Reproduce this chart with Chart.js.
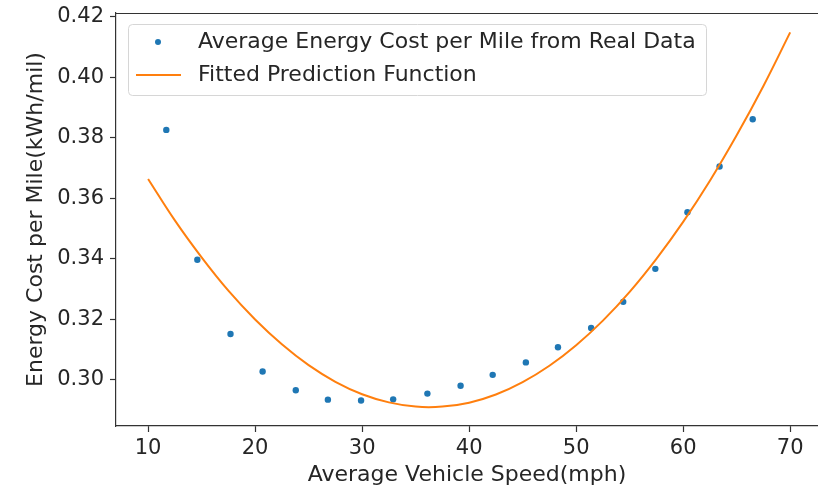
<!DOCTYPE html>
<html>
<head>
<meta charset="utf-8">
<script src="https://cdn.jsdelivr.net/npm/chart.js@4.4.1/dist/chart.umd.min.js"></script>
<style>
  body { margin: 0; background: #fff; }
  #wrap { width: 818px; height: 488px; }
</style>
</head>
<body>
<div id="wrap"><canvas id="myChart" width="818" height="488"></canvas></div>
<script>
// measured points (speed mph, energy kWh/mile)
const speeds = [11.7, 14.6, 17.7, 20.7, 23.8, 26.8, 29.9, 32.9, 36.1, 39.2, 42.2, 45.3, 48.3, 51.4, 54.4, 57.4, 60.4, 63.4, 66.5];
const costs = [0.3826, 0.3397, 0.3152, 0.3028, 0.2966, 0.2935, 0.2932, 0.2936, 0.2955, 0.2981, 0.3017, 0.3058, 0.3108, 0.3172, 0.3258, 0.3367, 0.3554, 0.3705, 0.3861];

// fitted curve
const fitSpeeds = [10, 12.5, 15, 17.5, 20, 22.5, 25, 27.5, 30, 32.5, 35, 37.5, 40, 42.5, 45, 47.5, 50, 52.5, 55, 57.5, 60, 62.5, 65, 67.5, 70];
const fitCosts = [0.3664, 0.3527, 0.3405, 0.3295, 0.3200, 0.3118, 0.3049, 0.2994, 0.2953, 0.2926, 0.2912, 0.2912, 0.2925, 0.2952, 0.2993, 0.3047, 0.3115, 0.3196, 0.3291, 0.3400, 0.3522, 0.3658, 0.3808, 0.3971, 0.4148];

const xTicks = [10, 20, 30, 40, 50, 60, 70];
const yTicks = [0.30, 0.32, 0.34, 0.36, 0.38, 0.40, 0.42];

const labelPuntos = "Average Energy Cost per Mile from Real Data";
const labelCurva = "Fitted Prediction Function";
const tituloX = "Average Vehicle Speed(mph)";
const tituloY = "Energy Cost per Mile(kWh/mil)";

const azul = "#1f77b4";
const naranja = "#ff7f0e";
const texto = "#262626";
const fuente = "'DejaVu Sans', sans-serif";

// top spine + legend box like matplotlib
const extras = {
    id: "extras",
    afterDraw(chart) {
        const ctx = chart.ctx;
        const area = chart.chartArea;
        ctx.save();
        ctx.strokeStyle = "#333";
        ctx.lineWidth = 1.2;
        ctx.beginPath();
        ctx.moveTo(area.left, area.top + 0.5);
        ctx.lineTo(area.right, area.top + 0.5);
        ctx.stroke();

        const x0 = area.left + 12, y0 = area.top + 11, w = 578, h = 71;
        ctx.beginPath();
        ctx.roundRect(x0 + 0.5, y0 + 0.5, w, h, 4);
        ctx.fillStyle = "rgba(255,255,255,0.8)";
        ctx.fill();
        ctx.strokeStyle = "#d6d6d6";
        ctx.lineWidth = 1;
        ctx.stroke();

        ctx.fillStyle = azul;
        ctx.beginPath();
        ctx.arc(x0 + 30, y0 + 18, 3, 0, Math.PI * 2);
        ctx.fill();

        ctx.strokeStyle = naranja;
        ctx.lineWidth = 2;
        ctx.beginPath();
        ctx.moveTo(x0 + 8, y0 + 51);
        ctx.lineTo(x0 + 53, y0 + 51);
        ctx.stroke();

        ctx.fillStyle = texto;
        ctx.font = "22px " + fuente;
        ctx.textBaseline = "middle";
        ctx.fillText(labelPuntos, x0 + 70, y0 + 18);
        ctx.fillText(labelCurva, x0 + 70, y0 + 51);
        ctx.restore();
    }
};

const sinPadding = (scale) => {
    scale.paddingTop = 0;
    scale.paddingBottom = 0;
    scale.paddingLeft = 0;
    scale.paddingRight = 0;
};

const ejeComun = {
    type: "linear",
    grid: { drawOnChartArea: false, drawTicks: true, tickLength: 6, tickColor: "#333", tickWidth: 1.2 },
    border: { display: true, color: "#333", width: 1.2 },
    ticks: { color: texto, font: { family: fuente, size: 21 } },
    title: { display: true, color: texto, font: { family: fuente, size: 22 } }
};

const config = {
    type: "scatter",
    data: {
        datasets: [
            {
                type: "line",
                label: labelCurva,
                data: fitSpeeds.map((x, i) => ({ x: x, y: fitCosts[i] })),
                borderColor: naranja,
                borderWidth: 2,
                pointRadius: 0,
                fill: false,
                tension: 0.4,
                order: 0
            },
            {
                label: labelPuntos,
                data: speeds.map((x, i) => ({ x: x, y: costs[i] })),
                backgroundColor: azul,
                borderWidth: 0,
                pointRadius: 3.2,
                order: 1
            }
        ]
    },
    options: {
        responsive: false,
        animation: false,
        layout: { autoPadding: false, padding: { top: 13, right: 0, left: 0, bottom: 0 } },
        plugins: { legend: { display: false }, tooltip: { enabled: false } },
        scales: {
            x: {
                ...ejeComun,
                position: "bottom",
                min: 7,
                max: 72.6,
                ticks: { ...ejeComun.ticks, padding: 4 },
                title: { ...ejeComun.title, text: tituloX, padding: { top: 0, bottom: 0 } },
                afterBuildTicks: (scale) => { scale.ticks = xTicks.map(v => ({ value: v })); },
                afterFit: (scale) => { scale.height = 62; sinPadding(scale); }
            },
            y: {
                ...ejeComun,
                position: "left",
                min: 0.2848,
                max: 0.4212,
                ticks: { ...ejeComun.ticks, padding: 6, callback: (v) => v.toFixed(2) },
                title: { ...ejeComun.title, text: tituloY, padding: { top: 23, bottom: 0 } },
                afterBuildTicks: (scale) => { scale.ticks = yTicks.map(v => ({ value: v })); },
                afterFit: (scale) => { scale.width = 116; sinPadding(scale); }
            }
        }
    },
    plugins: [extras]
};

const chartDOM = document.getElementById("myChart");
window.myChart = new Chart(chartDOM, config);
</script>
</body>
</html>
